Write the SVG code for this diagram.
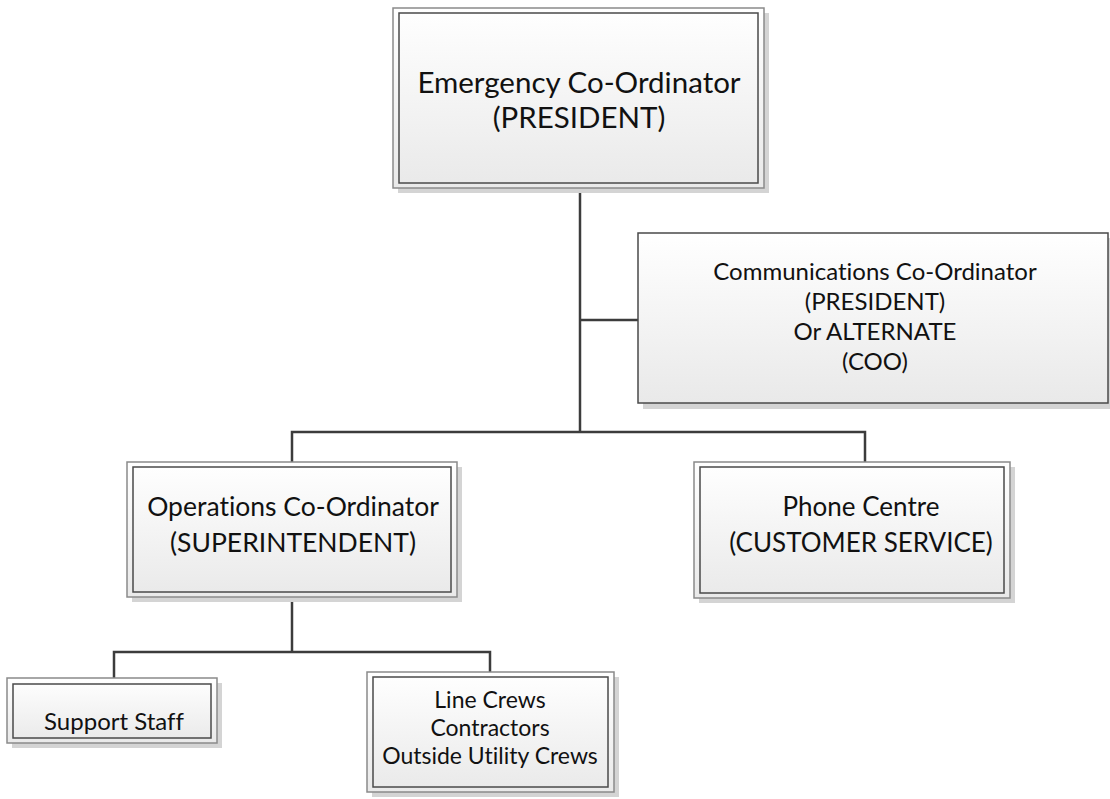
<svg xmlns="http://www.w3.org/2000/svg" width="1110" height="799" viewBox="0 0 1110 799">
<defs>
<linearGradient id="g" x1="0" y1="0" x2="0" y2="1">
<stop offset="0" stop-color="#ffffff"/>
<stop offset="1" stop-color="#e9e9e9"/>
</linearGradient>
<style>
.sh{fill:#d4d4d4;}
.out{fill:url(#g);stroke:#8a8a8a;stroke-width:1.5;}
.in{fill:none;stroke:#4a4a4a;stroke-width:1.5;}
.single{fill:url(#g);stroke:#4a4a4a;stroke-width:1.5;}
.t{font-family:Lato,"Liberation Sans",sans-serif;fill:#111;text-anchor:middle;font-variant-ligatures:none;}
.c{fill:none;stroke:#3c3c3c;stroke-width:2.5;}
</style>
</defs>
<rect width="1110" height="799" fill="#ffffff"/>
<g id="connectors">
<path class="c" d="M580,187 V432"/>
<path class="c" d="M580,320 H638"/>
<path class="c" d="M292,462 V432 H865 V462"/>
<path class="c" d="M292,597 V652"/>
<path class="c" d="M114,678 V652 H490 V672"/>
</g>
<g id="emergency">
<rect class="sh" x="398" y="13" width="371" height="180"/>
<rect class="out" x="393" y="8" width="371" height="180"/>
<rect class="in" x="399" y="13" width="359" height="170"/>
<text class="t" x="579" y="93" font-size="29.5">Emergency Co-Ordinator</text>
<text class="t" x="579" y="128" font-size="29.5">(PRESIDENT)</text>
</g>
<g id="communications">
<rect class="sh" x="643" y="238" width="467" height="171"/>
<rect class="single" x="638" y="233" width="470" height="170"/>
<text class="t" x="875" y="280" font-size="24">Communications Co-Ordinator</text>
<text class="t" x="875" y="310" font-size="24">(PRESIDENT)</text>
<text class="t" x="875" y="340" font-size="24">Or ALTERNATE</text>
<text class="t" x="875" y="370" font-size="24">(COO)</text>
</g>
<g id="operations">
<rect class="sh" x="132" y="467" width="330" height="135"/>
<rect class="out" x="127" y="462" width="330" height="135"/>
<rect class="in" x="133" y="467" width="318" height="125"/>
<text class="t" x="293" y="516" font-size="26.5">Operations Co-Ordinator</text>
<text class="t" x="293" y="552" font-size="26.5">(SUPERINTENDENT)</text>
</g>
<g id="phone">
<rect class="sh" x="699" y="467" width="316" height="136"/>
<rect class="out" x="694" y="462" width="316" height="136"/>
<rect class="in" x="700" y="467" width="304" height="126"/>
<text class="t" x="861" y="516" font-size="26">Phone Centre</text>
<text class="t" x="861" y="552" font-size="26">(CUSTOMER SERVICE)</text>
</g>
<g id="support">
<rect class="sh" x="12" y="683" width="210" height="65"/>
<rect class="out" x="7" y="678" width="210" height="65"/>
<rect class="in" x="13" y="684" width="198" height="54"/>
<text class="t" x="114" y="730" font-size="24">Support Staff</text>
</g>
<g id="linecrews">
<rect class="sh" x="372" y="677" width="247" height="120"/>
<rect class="out" x="367" y="672" width="247" height="120"/>
<rect class="in" x="373" y="677" width="235" height="110"/>
<text class="t" x="490" y="708" font-size="23">Line Crews</text>
<text class="t" x="490" y="736" font-size="23">Contractors</text>
<text class="t" x="490" y="764" font-size="23">Outside Utility Crews</text>
</g>
</svg>
